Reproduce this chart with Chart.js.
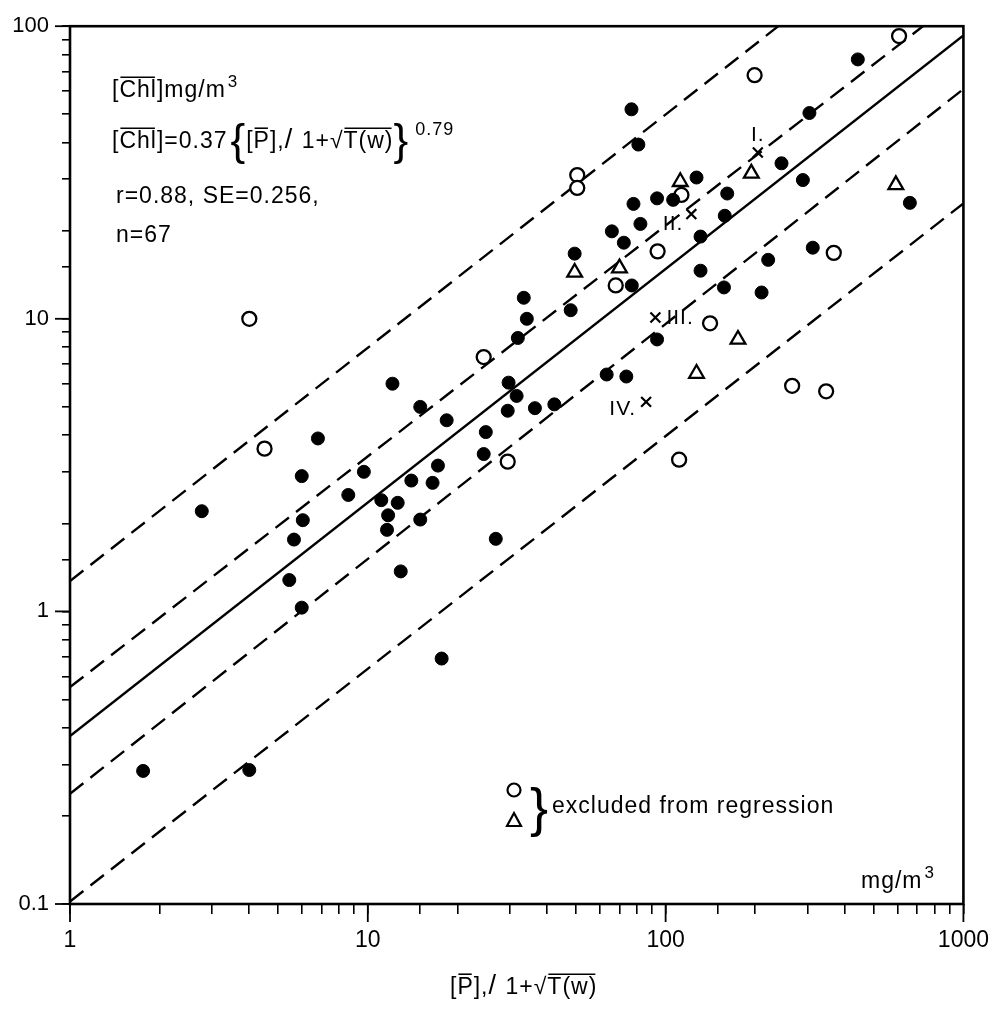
<!DOCTYPE html>
<html>
<head>
<meta charset="utf-8">
<script src="https://cdn.jsdelivr.net/npm/chart.js@4.4.0/dist/chart.umd.min.js"></script>
<style>
  html, body { margin: 0; padding: 0; background: #fff; }
  #wrap { width: 1002px; height: 1010px; }
</style>
</head>
<body>
<div id="wrap"><canvas id="chlChart" width="1002" height="1010"></canvas></div>
<script>
const FONT = "'Liberation Sans', 'DejaVu Sans', sans-serif";

// axis ticks (labelled decades)
const X_TICKS = [1, 10, 100, 1000];
const Y_TICKS = [0.1, 1, 10, 100];

// lakes used in the regression (filled dots)
const dotX = [6.8, 12.1, 15.0, 18.4, 24.9, 24.5, 6.0, 9.7, 17.2, 14.0, 16.5, 8.6, 11.1, 12.6,
  2.77, 11.7, 15.0, 6.05, 11.6, 5.65, 26.9, 12.9, 5.45, 6.0, 17.7, 1.76, 4.0,
  33.4, 48, 34.2, 31.9, 29.7, 31.6, 29.5, 36.4, 42.3,
  76.8, 81, 245, 127, 106, 93.6, 78, 161, 82.3, 158, 66, 72.4, 131, 49.5, 221,
  77, 131, 157, 210, 93.6, 63.4, 73.8, 442, 304, 289, 661, 312];
const dotY = [3.9, 6.0, 5.0, 4.5, 4.1, 3.45, 2.9, 3.0, 3.15, 2.8, 2.75, 2.5, 2.4, 2.35,
  2.2, 2.13, 2.06, 2.05, 1.9, 1.76, 1.77, 1.37, 1.28, 1.03, 0.69, 0.285, 0.287,
  11.8, 10.7, 10.0, 8.6, 6.05, 5.45, 4.85, 4.95, 5.1,
  52, 39.4, 34, 30.4, 25.5, 25.8, 24.7, 26.8, 21.1, 22.5, 19.9, 18.2, 19.1, 16.7, 15.9,
  13.0, 14.6, 12.8, 12.3, 8.5, 6.45, 6.35, 77, 50.5, 29.8, 24.9, 17.5];

// excluded from regression: open circles
const openX = [4.0, 4.5, 24.5, 29.5, 199, 50.5, 50.5, 113, 94, 68, 141, 111, 608, 367, 266, 346];
const openY = [10.0, 3.6, 7.4, 3.25, 68, 31, 28, 26.5, 17.0, 13.0, 9.65, 3.3, 92.5, 16.8, 5.9, 5.65];

// excluded from regression: triangles
const triX = [49.5, 70, 112, 194, 175, 127, 593];
const triY = [14.4, 14.9, 29.4, 31.4, 8.5, 6.5, 28.7];

// marked lakes
const markX = [204, 122, 92.4, 86];
const markY = [37, 22.8, 10.1, 5.2];
const markLabels = ["I.", "II.", "III.", "IV."];

// regression line and bands, ends at x = 1 and x = 1000
const lineX = [1, 1000];
const regressionY = [0.375, 93];
const innerUpperY = [0.551, 128];
const innerLowerY = [0.238, 61];
const outerUpperY = [1.27, 313];
const outerLowerY = [0.102, 24.8];

const pts = (xs, ys) => xs.map((x, i) => ({ x: x, y: ys[i] }));
const isDecade = (v) => Math.abs(Math.log10(v) - Math.round(Math.log10(v))) < 1e-9;

function lineSet(ys, dashed) {
  return {
    type: "line",
    data: pts(lineX, ys),
    showLine: true,
    borderColor: "#000",
    borderWidth: 2.4,
    borderDash: dashed ? [17, 9] : [],
    pointRadius: 0,
    fill: false,
    order: 5,
  };
}

// draws a run of text pieces, with optional bar over a piece
function drawRun(ctx, x, y, parts) {
  for (const p of parts) {
    const size = p.size || 23;
    ctx.font = size + "px " + FONT;
    const w = ctx.measureText(p.t).width;
    ctx.fillText(p.t, x, y + (p.dy || 0));
    if (p.over) {
      ctx.beginPath();
      ctx.lineWidth = 1.6;
      ctx.moveTo(x + 1, y - size * 0.86);
      ctx.lineTo(x + w - 2, y - size * 0.86);
      ctx.stroke();
    }
    x += w + (p.gap || 0);
  }
  return x;
}

const framePlugin = {
  id: "frame",
  afterDraw(chart) {
    const { ctx, chartArea: a, scales } = chart;
    ctx.save();
    ctx.strokeStyle = "#000";
    ctx.lineWidth = 2.6;
    ctx.strokeRect(a.left, a.top, a.right - a.left, a.bottom - a.top);
    // longer ticks at decades
    ctx.lineWidth = 1.8;
    X_TICKS.forEach((v) => {
      const px = scales.x.getPixelForValue(v);
      ctx.beginPath();
      ctx.moveTo(px, a.bottom);
      ctx.lineTo(px, a.bottom + 18);
      ctx.stroke();
    });
    Y_TICKS.forEach((v) => {
      const py = scales.y.getPixelForValue(v);
      ctx.beginPath();
      ctx.moveTo(a.left, py);
      ctx.lineTo(a.left - 15, py);
      ctx.stroke();
    });
    ctx.restore();
  },
};

const textPlugin = {
  id: "texts",
  afterDatasetsDraw(chart) {
    const { ctx, scales } = chart;
    ctx.save();
    ctx.fillStyle = "#000";
    ctx.strokeStyle = "#000";
    ctx.textBaseline = "alphabetic";
    ctx.textAlign = "left";
    ctx.letterSpacing = "1px";

    // header block
    drawRun(ctx, 112, 97, [
      { t: "[" }, { t: "Chl", over: true }, { t: "]" }, { t: "mg/m", gap: 2 },
      { t: "3", size: 17, dy: -10 },
    ]);
    drawRun(ctx, 112, 148, [
      { t: "[" }, { t: "Chl", over: true }, { t: "]" }, { t: "=0.37", gap: 3 },
      { t: "{", size: 44, dy: 7 }, { t: "[" }, { t: "P", over: true }, { t: "]" },
      { t: "," }, { t: "/ ", size: 27 }, { t: "1+" }, { t: "√" }, { t: "T(w)", over: true },
      { t: "}", size: 44, dy: 7, gap: 6 }, { t: "0.79", size: 18, dy: -13 },
    ]);
    ctx.font = "23px " + FONT;
    ctx.fillText("r=0.88, SE=0.256,", 116, 203);
    ctx.fillText("n=67", 116, 242);

    // marked lakes
    ctx.font = "21px " + FONT;
    const mp = markX.map((x, i) => ({ x: scales.x.getPixelForValue(x), y: scales.y.getPixelForValue(markY[i]) }));
    ctx.textAlign = "center";
    ctx.fillText(markLabels[0], mp[0].x, mp[0].y - 12);
    ctx.textAlign = "right";
    ctx.fillText(markLabels[1], mp[1].x - 8, mp[1].y + 16);
    ctx.textAlign = "left";
    ctx.fillText(markLabels[2], mp[2].x + 11, mp[2].y + 6);
    ctx.textAlign = "right";
    ctx.fillText(markLabels[3], mp[3].x - 10, mp[3].y + 13);

    // legend for excluded lakes
    ctx.lineWidth = 2.2;
    ctx.beginPath();
    ctx.arc(514, 790, 6.5, 0, Math.PI * 2);
    ctx.stroke();
    ctx.beginPath();
    ctx.moveTo(514, 813);
    ctx.lineTo(521, 826);
    ctx.lineTo(507, 826);
    ctx.closePath();
    ctx.stroke();
    ctx.textAlign = "left";
    ctx.letterSpacing = "0px";
    ctx.font = "54px " + FONT;
    ctx.fillText("}", 530, 826);
    ctx.letterSpacing = "1px";
    ctx.font = "23px " + FONT;
    ctx.fillText("excluded from regression", 552, 813);

    // unit at the x axis
    drawRun(ctx, 861, 888, [{ t: "mg/m", gap: 2 }, { t: "3", size: 17, dy: -10 }]);

    // x axis title
    drawRun(ctx, 450, 994, [
      { t: "[" }, { t: "P", over: true }, { t: "]" }, { t: "," }, { t: "/ ", size: 27 },
      { t: "1+" }, { t: "√" }, { t: "T(w)", over: true },
    ]);
    ctx.restore();
  },
};

new Chart(document.getElementById("chlChart"), {
  type: "scatter",
  data: {
    datasets: [
      lineSet(regressionY, false),
      lineSet(innerUpperY, true),
      lineSet(innerLowerY, true),
      lineSet(outerUpperY, true),
      lineSet(outerLowerY, true),
      {
        label: "included",
        data: pts(dotX, dotY),
        pointStyle: "circle",
        pointRadius: 6.5,
        backgroundColor: "#000",
        borderColor: "#000",
        borderWidth: 1,
        order: 1,
      },
      {
        label: "excluded (circle)",
        data: pts(openX, openY),
        pointStyle: "circle",
        pointRadius: 7,
        backgroundColor: "#fff",
        borderColor: "#000",
        borderWidth: 2.3,
        order: 1,
      },
      {
        label: "excluded (triangle)",
        data: pts(triX, triY),
        pointStyle: "triangle",
        pointRadius: 8.5,
        backgroundColor: "#fff",
        borderColor: "#000",
        borderWidth: 2.3,
        order: 1,
      },
      {
        label: "marked",
        data: pts(markX, markY),
        pointStyle: "crossRot",
        pointRadius: 7,
        borderColor: "#000",
        borderWidth: 2.2,
        order: 1,
      },
    ],
  },
  options: {
    responsive: false,
    animation: false,
    events: [],
    layout: { padding: { top: 20, right: 34, left: 0, bottom: 0 } },
    plugins: {
      legend: { display: false },
      tooltip: { enabled: false },
    },
    scales: {
      x: {
        type: "logarithmic",
        min: 1,
        max: 1000,
        afterFit: (s) => { s.height = 106; },
        border: { display: false },
        grid: { drawOnChartArea: false, drawTicks: true, tickLength: 10, color: "#000", lineWidth: 1.6 },
        ticks: {
          autoSkip: false,
          maxRotation: 0,
          padding: 13,
          color: "#000",
          font: { family: FONT, size: 23 },
          callback: (v) => (isDecade(v) ? String(v) : ""),
        },
      },
      y: {
        type: "logarithmic",
        min: 0.1,
        max: 100,
        afterFit: (s) => { s.width = 70; },
        border: { display: false },
        grid: { drawOnChartArea: false, drawTicks: true, tickLength: 8, color: "#000", lineWidth: 1.6 },
        ticks: {
          autoSkip: false,
          padding: 13,
          color: "#000",
          font: { family: FONT, size: 22 },
          callback: (v) => (isDecade(v) ? String(v) : ""),
        },
      },
    },
  },
  plugins: [framePlugin, textPlugin],
});
</script>
</body>
</html>
